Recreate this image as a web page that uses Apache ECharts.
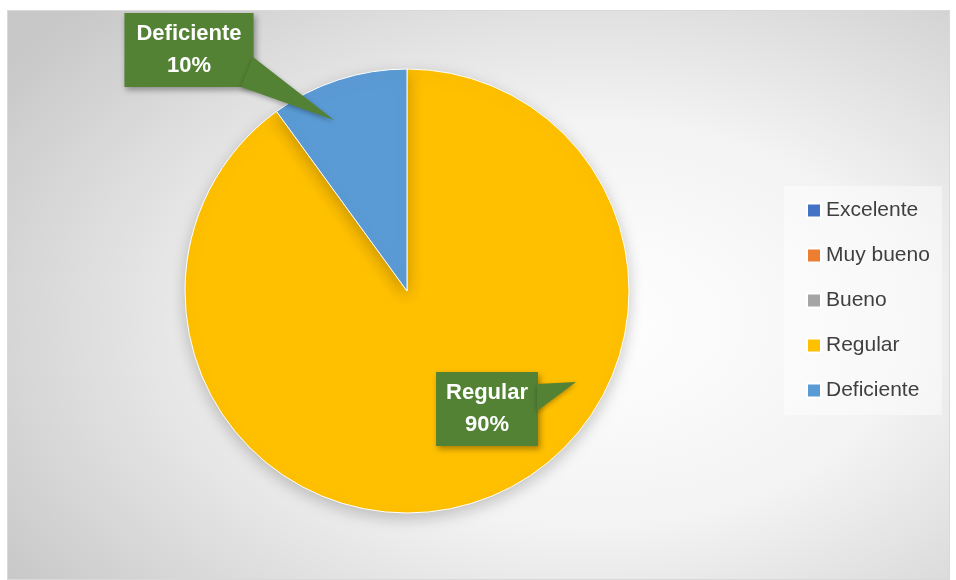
<!DOCTYPE html>
<html>
<head>
<meta charset="utf-8">
<script src="https://cdn.jsdelivr.net/npm/echarts@6/dist/echarts.min.js"></script>
<style>
  html, body { margin: 0; padding: 0; background: #fff; }
  #chart {
    position: absolute;
    left: 7px;
    top: 10px;
    width: 943px;
    height: 570px;
    border: 1px solid #d9d9d9;
    box-sizing: border-box;
    background: radial-gradient(ellipse 75% 80% at 62% 55%, #ffffff 0%, #f3f3f3 45%, #c8c8c8 100%);
  }
</style>
</head>
<body>
<div id="chart"></div>
<script>
// categorias y valores (%)
const categories = ['Excelente', 'Muy bueno', 'Bueno', 'Regular', 'Deficiente'];
const values = [0, 0, 0, 90, 10];
const colors = ['#4472C4', '#ED7D31', '#A5A5A5', '#FFC000', '#5B9BD5'];

const chart = echarts.init(document.getElementById('chart'));

// posicion de las etiquetas (cuadros verdes)
const labelPos = {
  Regular: { x: 479, y: 398 },
  Deficiente: { x: 181, y: 39 }
};
const labelPad = {
  Regular: [5, 10],
  Deficiente: [5, 12]
};

const option = {
  color: colors,
  textStyle: { fontFamily: 'Liberation Sans, Arial, sans-serif' },
  legend: {
    orient: 'vertical',
    left: 776,
    top: 175,
    padding: [14, 12, 14, 22],
    backgroundColor: 'rgba(255,255,255,0.45)',
    itemWidth: 14,
    itemHeight: 14,
    itemGap: 24,
    icon: 'rect',
    data: categories,
    textStyle: { fontSize: 21, lineHeight: 21, color: '#3f3f3f' }
  },
  series: [
    {
      type: 'pie',
      center: [399, 280],
      radius: 222,
      startAngle: 90,
      clockwise: true,
      minShowLabelAngle: 1,
      avoidLabelOverlap: false,
      itemStyle: {
        borderColor: '#ffffff',
        borderWidth: 1,
        shadowBlur: 16,
        shadowOffsetY: 5,
        shadowColor: 'rgba(0,0,0,0.22)'
      },
      label: {
        show: true,
        position: 'outside',
        formatter: '{b}\n{d}%',
        color: '#ffffff',
        fontWeight: 'bold',
        fontSize: 22,
        lineHeight: 32,
        align: 'center',
        backgroundColor: '#548235',
        shadowColor: 'rgba(0,0,0,0.35)',
        shadowBlur: 6,
        shadowOffsetX: 2,
        shadowOffsetY: 3
      },
      labelLine: { show: false },
      labelLayout: function (params) {
        const name = categories[params.dataIndex];
        const p = labelPos[name];
        if (!p) return {};
        return { x: p.x, y: p.y, align: 'center', verticalAlign: 'middle' };
      },
      emphasis: { disabled: true },
      data: categories.map(function (c, i) {
        return {
          name: c,
          value: values[i],
          label: labelPad[c] ? { padding: labelPad[c] } : { show: false }
        };
      })
    }
  ],
  graphic: [
    {
      type: 'polygon',
      z: 100,
      shape: { points: [[245, 46], [233, 76], [326, 109]] },
      style: { fill: '#548235', shadowBlur: 5, shadowColor: 'rgba(0,0,0,0.3)', shadowOffsetY: 2 }
    },
    {
      type: 'polygon',
      z: 100,
      shape: { points: [[529, 373], [529, 400], [568, 371]] },
      style: { fill: '#548235', shadowBlur: 5, shadowColor: 'rgba(0,0,0,0.3)', shadowOffsetY: 2 }
    }
  ]
};

chart.setOption(option);
</script>
</body>
</html>
